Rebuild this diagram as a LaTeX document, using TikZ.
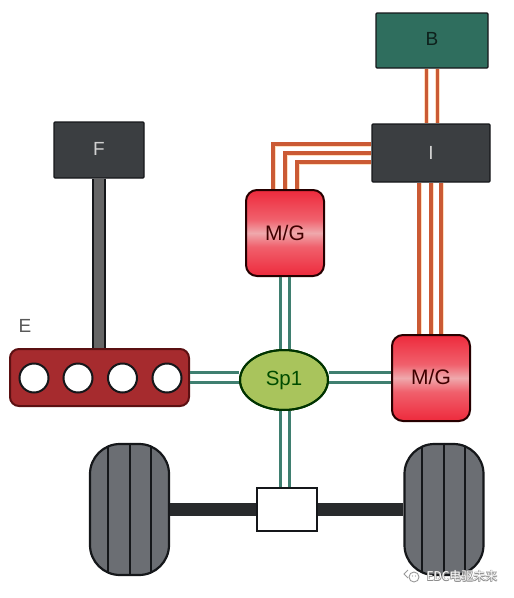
\documentclass[tikz,border=0pt]{standalone}
\usepackage{fontspec}
\setmainfont{Liberation Sans}
\newfontfamily\cjkfont{Noto Sans CJK SC}
\usetikzlibrary{calc,shapes.geometric}
\definecolor{boxdark}{HTML}{3B3E41}
\definecolor{boxgreen}{HTML}{2F6E5E}
\definecolor{wire}{HTML}{CB5A34}
\definecolor{shaftteal}{HTML}{3F7F70}
\definecolor{enginered}{HTML}{A62B2E}
\definecolor{tyre}{HTML}{6B6E73}
\definecolor{outline}{HTML}{15171A}
\definecolor{spgreen}{HTML}{A9C45C}
\definecolor{mgA}{HTML}{D41F2E}
\definecolor{mgB}{HTML}{EE2A3C}
\definecolor{mgC}{HTML}{F0606C}
\definecolor{mgD}{HTML}{EFA8AC}
\pgfdeclareverticalshading{mgshade}{100bp}{
  color(0bp)=(mgA);
  color(25bp)=(mgB);
  color(42bp)=(mgC);
  color(50bp)=(mgD);
  color(58bp)=(mgC);
  color(75bp)=(mgB);
  color(100bp)=(mgA)}
\tikzset{
  lbl/.style={font=\fontsize{19}{19}\selectfont},
  darkbox/.style={draw=outline,line width=1.2pt,fill=boxdark,rounded corners=1pt,inner sep=0pt,text=white!82!black,lbl},
  mgbox/.style={draw=black!85!red,line width=2pt,rounded corners=11pt,inner sep=0pt,minimum width=78pt,minimum height=86pt,
    shading=mgshade,text=black!75!red,font=\fontsize{21}{21}\selectfont},
  halo/.style={draw=white!75!orange,line width=5pt},
  orangewire/.style={draw=wire,line width=3.6pt},
  tealshaft/.style={draw=shaftteal,line width=3.4pt},
  wheelbody/.style={draw=outline,line width=2.2pt,fill=tyre,rounded corners=30pt,inner sep=0pt,minimum width=79pt,minimum height=131pt},
  tread/.style={draw=outline,line width=2pt},
  axle/.style={draw=outline!92!white,line width=13.5pt},
  cyl/.style={circle,draw=outline,line width=2pt,fill=white,minimum size=29pt,inner sep=0pt},
}
\begin{document}
\begin{tikzpicture}[x=1pt,y=-1pt]
\useasboundingbox (0,0) rectangle (514,598);
% nodes
\node[darkbox,fill=boxgreen,text=black!70!boxgreen,minimum width=112pt,minimum height=55pt] (B) at (432,40.5) {\raisebox{3pt}{B}};
\node[darkbox,minimum width=118pt,minimum height=58pt] (I) at (431,153) {I};
\node[darkbox,minimum width=90pt,minimum height=56pt] (F) at (99,150) {\raisebox{1.5pt}{F}};
\node[mgbox] (MGa) at (285,233) {M/G};
\node[mgbox] (MGb) at (431,378) {\raisebox{2pt}{M/G}};
\node[draw=outline!70!red,line width=2pt,fill=enginered,rounded corners=9pt,minimum width=179pt,minimum height=57pt,inner sep=0pt] (Eng) at (99.5,377.5) {};
\node[ellipse,draw=black!80!green,line width=2pt,fill=spgreen,minimum width=88pt,minimum height=60pt,inner sep=0pt,text=black!70!green,font=\fontsize{20.5}{20.5}\selectfont] (Sp) at (284,380) {\raisebox{-1pt}{Sp1}};
\node[draw=outline,line width=1.6pt,fill=white,minimum width=60pt,minimum height=43pt,inner sep=0pt] (Diff) at (287,509.5) {};
\node[wheelbody] (WL) at (129.5,509.5) {};
\node[wheelbody] (WR) at (444,509.5) {};
\node[lbl,text=black!65] (Elbl) at (25,326) {E};
\node[cyl] (c1) at (34,378) {};
\node[cyl] (c2) at (78,378) {};
\node[cyl] (c3) at (122.5,378) {};
\node[cyl] (c4) at (167,378) {};
% F shaft
\draw[draw=outline,line width=14pt] (F.south) -- (F.south |- Eng.north);
\draw[draw=black!60,line width=10pt] (F.south) -- (F.south |- Eng.north);
% axle
\draw[axle] (WL.east) -- (Diff.west);
\draw[axle] (Diff.east) -- (WR.west);
% orange wires
\foreach \dy/\dx in {9/-12,0/0,-9/12}{
  \draw[halo] ([yshift=\dy pt]I.west) -| ([xshift=\dx pt]MGa.north);
}
\foreach \dy/\dx in {9/-12,0/0,-9/12}{
  \draw[orangewire] ([yshift=\dy pt]I.west) -| ([xshift=\dx pt]MGa.north);
}
\foreach \dx in {-12,0,10}{
  \draw[halo] ([xshift=\dx pt]I.south) -- ([xshift=\dx pt]MGb.north);
  \draw[orangewire] ([xshift=\dx pt]I.south) -- ([xshift=\dx pt]MGb.north);
}
\foreach \dx in {-5.5,5.5}{
  \draw[halo] ([xshift=\dx pt]B.south) -- ([xshift=\dx pt]B.south |- I.north);
  \draw[orangewire] ([xshift=\dx pt]B.south) -- ([xshift=\dx pt]B.south |- I.north);
}
% teal shafts
\foreach \dx in {-4.5,4.5}{
  \draw[tealshaft] ([xshift=\dx pt]MGa.south) -- ([xshift=\dx pt]MGa.south |- Sp.north);
  \draw[tealshaft] ([xshift=\dx pt]MGa.south |- Sp.south) -- ([xshift=\dx pt]MGa.south |- Diff.north);
}
\foreach \dy in {-5,5}{
  \draw[tealshaft] ([yshift=\dy pt]Eng.east) -- ([yshift=\dy pt]Eng.east -| Sp.west);
  \draw[tealshaft] ([yshift=\dy pt]Eng.east -| Sp.east) -- ([yshift=\dy pt]Eng.east -| MGb.west);
}
% redraw the ellipse edge over the shaft ends
\draw[draw=black!80!green,line width=2pt] (Sp.center) ellipse [x radius=44,y radius=30];
% treads
\foreach \w in {WL,WR}{
  \draw[tread] ([shift={(-22pt,-3pt)}]\w.north) -- ([shift={(-22pt,3pt)}]\w.south);
  \draw[tread] (\w.north) -- (\w.south);
  \draw[tread] ([shift={(21pt,-3pt)}]\w.north) -- ([shift={(21pt,3pt)}]\w.south);
}
% watermark
\foreach \ox/\oy in {.5/.5,-.5/.5,.5/-.5,-.5/-.5}{
  \node[font=\fontsize{12}{12}\cjkfont,text=black!45,inner sep=0pt] at (462+\ox,576+\oy) {EDC电驱未来};
}
\node[font=\fontsize{12}{12}\cjkfont,text=white,inner sep=0pt] (wm) at (462,576) {EDC电驱未来};
\draw[black!40,line width=.9pt] (414,577) circle (5);
\draw[black!40,line width=.9pt] (408,570) -- (404,574) -- (408,578);
\fill[black!40] (412.5,576) circle (.7) (415.5,576) circle (.7);
\end{tikzpicture}
\end{document}
